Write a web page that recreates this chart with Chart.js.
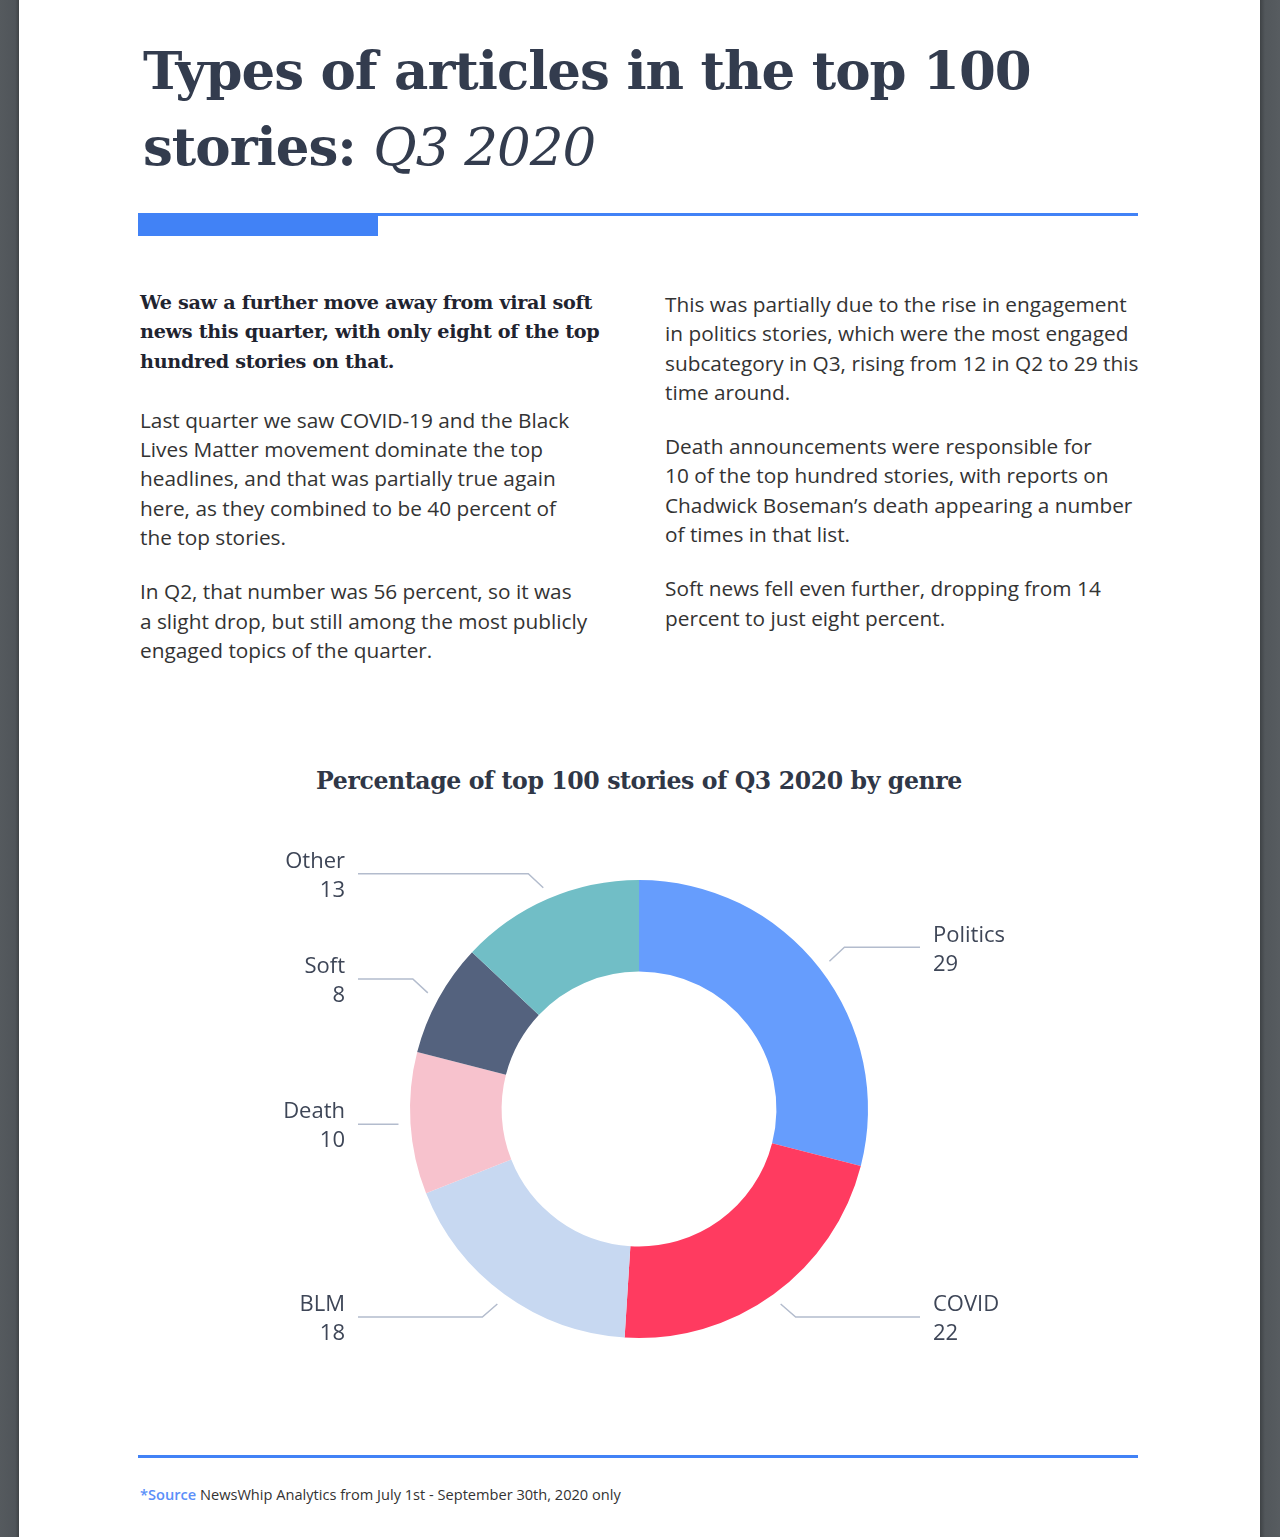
<!DOCTYPE html>
<html>
<head>
<meta charset="utf-8">
<script src="https://cdn.jsdelivr.net/npm/chart.js@4/dist/chart.umd.min.js"></script>
<style>
  html, body { margin: 0; padding: 0; }
  body { width: 1280px; height: 1537px; position: relative; background: #fff; overflow: hidden; font-family: "Open Sans", sans-serif; }
  .side { position: absolute; top: 0; width: 20px; height: 1537px; background: #52575b; }
  .side.left { left: 0; width: 19px; background: linear-gradient(to right, #555a5e 0, #50555a 80%, #3f4346 100%); }
  .side.right { left: 1260px; background: linear-gradient(to right, #3f4346 0, #52575b 25%, #575c60 100%); }
  .title { position: absolute; left: 143px; top: 32px; font-family: "DejaVu Serif", serif; font-weight: bold; font-size: 53px; line-height: 76px; color: #333c4e; white-space: nowrap; letter-spacing: -1px; }
  .title i { font-weight: normal; }
  .rule-thin { position: absolute; left: 138px; top: 213px; width: 1000px; height: 3px; background: #4182f6; }
  .rule-thick { position: absolute; left: 138px; top: 215px; width: 240px; height: 21px; background: #4182f6; }
  .col { position: absolute; white-space: nowrap; color: #333; font-size: 20.8px; line-height: 29.3px; }
  .col p { margin: 0 0 25px 0; }
  .col p.lead { font-family: "DejaVu Serif", serif; font-weight: bold; font-size: 19.2px; color: #1f2430; letter-spacing: -0.3px; margin-bottom: 30px; }
  .ctitle { position: absolute; left: 0; width: 1278px; top: 767px; text-align: center; font-family: "DejaVu Serif", serif; font-weight: bold; font-size: 23.6px; color: #2f3747; letter-spacing: -0.4px; }
  #wrap { position: absolute; left: 139px; top: 849px; width: 1000px; height: 520px; }
  .rule-bottom { position: absolute; left: 138px; top: 1455px; width: 1000px; height: 3px; background: #4182f6; }
  .source { position: absolute; left: 140px; top: 1484px; font-size: 14.6px; color: #333; white-space: nowrap; }
  .source b { color: #5b8ff9; font-weight: 600; }
</style>
</head>
<body>
<div class="side left"></div>
<div class="side right"></div>

<div class="title">Types of articles in the top 100<br>stories: <i>Q3 2020</i></div>
<div class="rule-thin"></div>
<div class="rule-thick"></div>

<div class="col" style="left:140px; top:288px;">
  <p class="lead">We saw a further move away from viral soft<br>news this quarter, with only eight of the top<br>hundred stories on that.</p>
  <p>Last quarter we saw COVID-19 and the Black<br>Lives Matter movement dominate the top<br>headlines, and that was partially true again<br>here, as they combined to be 40 percent of<br>the top stories.</p>
  <p>In Q2, that number was 56 percent, so it was<br>a slight drop, but still among the most publicly<br>engaged topics of the quarter.</p>
</div>

<div class="col" style="left:665px; top:290px;">
  <p>This was partially due to the rise in engagement<br>in politics stories, which were the most engaged<br>subcategory in Q3, rising from 12 in Q2 to 29 this<br>time around.</p>
  <p>Death announcements were responsible for<br>10 of the top hundred stories, with reports on<br>Chadwick Boseman’s death appearing a number<br>of times in that list.</p>
  <p>Soft news fell even further, dropping from 14<br>percent to just eight percent.</p>
</div>

<div class="ctitle">Percentage of top 100 stories of Q3 2020 by genre</div>

<div id="wrap"><canvas id="donut"></canvas></div>

<div class="rule-bottom"></div>
<div class="source"><b>*Source</b> NewsWhip Analytics from July 1st - September 30th, 2020 only</div>

<script>
const genres = ['Politics', 'COVID', 'BLM', 'Death', 'Soft', 'Other'];
const stories = [29, 22, 18, 10, 8, 13];
const genreColors = ['#669dfd', '#ff3b60', '#c7d8f1', '#f7c2cd', '#54627e', '#71bec6'];

// leader lines + two-line labels next to each slice
const calloutLabels = {
    id: 'calloutLabels',
    afterDatasetsDraw(chart) {
        const ctx = chart.ctx;
        const meta = chart.getDatasetMeta(0);
        ctx.save();
        meta.data.forEach(function (arc, i) {
            const p = arc.getProps(['x', 'y', 'startAngle', 'endAngle', 'outerRadius'], true);
            const mid = (p.startAngle + p.endAngle) / 2;
            const cos = Math.cos(mid), sin = Math.sin(mid);
            const right = cos >= 0;
            const r1 = p.outerRadius + 12;
            const x1 = p.x + cos * r1;
            const y1 = p.y + sin * r1;
            let x2 = x1, y2 = y1;
            if (Math.abs(sin) > 0.2) {
                x2 = x1 + (right ? 15 : -15);
                y2 = y1 + (sin > 0 ? 13 : -14);
            }
            const x3 = p.x + (right ? 281 : -281);

            ctx.strokeStyle = '#b3bccd';
            ctx.lineWidth = 1.5;
            ctx.beginPath();
            ctx.moveTo(x1, y1);
            ctx.lineTo(x2, y2);
            ctx.lineTo(x3, y2);
            ctx.stroke();

            const tx = p.x + (right ? 294 : -294);
            ctx.fillStyle = '#3e4657';
            ctx.font = '22px "Open Sans"';
            ctx.textAlign = right ? 'left' : 'right';
            ctx.textBaseline = 'middle';
            ctx.fillText(chart.data.labels[i], tx, y2 - 12);
            ctx.fillText(String(chart.data.datasets[0].data[i]), tx, y2 + 17);
        });
        ctx.restore();
    }
};

new Chart(document.getElementById('donut'), {
    type: 'doughnut',
    data: {
        labels: genres,
        datasets: [{
            data: stories,
            backgroundColor: genreColors,
            borderWidth: 0,
            radius: 229,
            cutout: '60%'
        }]
    },
    options: {
        responsive: true,
        maintainAspectRatio: false,
        animation: false,
        plugins: {
            legend: { display: false },
            tooltip: { enabled: false }
        }
    },
    plugins: [calloutLabels]
});
</script>
</body>
</html>
